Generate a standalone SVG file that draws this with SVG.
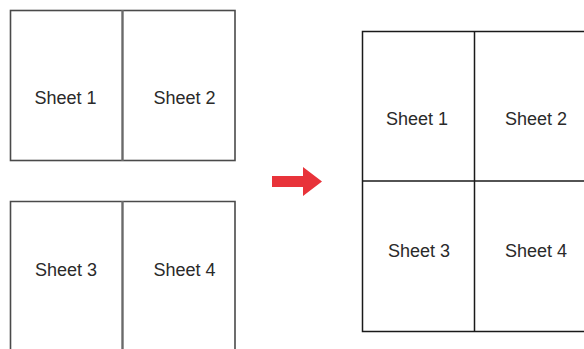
<svg xmlns="http://www.w3.org/2000/svg" width="584" height="349" viewBox="0 0 584 349">
<style>
.lg{fill:none;stroke:#4a4a4a;stroke-width:1.6}
.ld{stroke:#6a6a6a;stroke-width:2.4}
.rg{fill:none;stroke:#1a1a1a;stroke-width:1.5}
.t{font-family:"Liberation Sans",Arial,Helvetica,sans-serif;font-size:18px;fill:#2a2a2a;text-anchor:middle}
</style>
<rect width="584" height="349" fill="#fff"/>
<g id="top-pair">
<rect class="lg" x="10.5" y="10.5" width="224.5" height="150"/>
<line class="ld" x1="122.5" y1="10" x2="122.5" y2="161"/>
<text class="t" x="65.5" y="104">Sheet 1</text>
<text class="t" x="184.5" y="104">Sheet 2</text>
</g>
<g id="bottom-pair">
<path class="lg" d="M10.5 349V201.5H235V349"/>
<line class="ld" x1="122.5" y1="201" x2="122.5" y2="349"/>
<text class="t" x="66" y="276">Sheet 3</text>
<text class="t" x="184.5" y="276">Sheet 4</text>
</g>
<g id="result">
<path class="rg" d="M590 31.5H362.5V331.5H590"/>
<line class="rg" x1="474.5" y1="31" x2="474.5" y2="332"/>
<line class="rg" x1="362" y1="181" x2="590" y2="181"/>
<text class="t" x="417" y="125">Sheet 1</text>
<text class="t" x="536" y="125">Sheet 2</text>
<text class="t" x="419" y="257">Sheet 3</text>
<text class="t" x="536" y="257">Sheet 4</text>
</g>
<g id="connectors">
<path d="M272 176H303V167L322 181.5L303 196V187H272Z" fill="#e8333a"/>
</g>
</svg>
